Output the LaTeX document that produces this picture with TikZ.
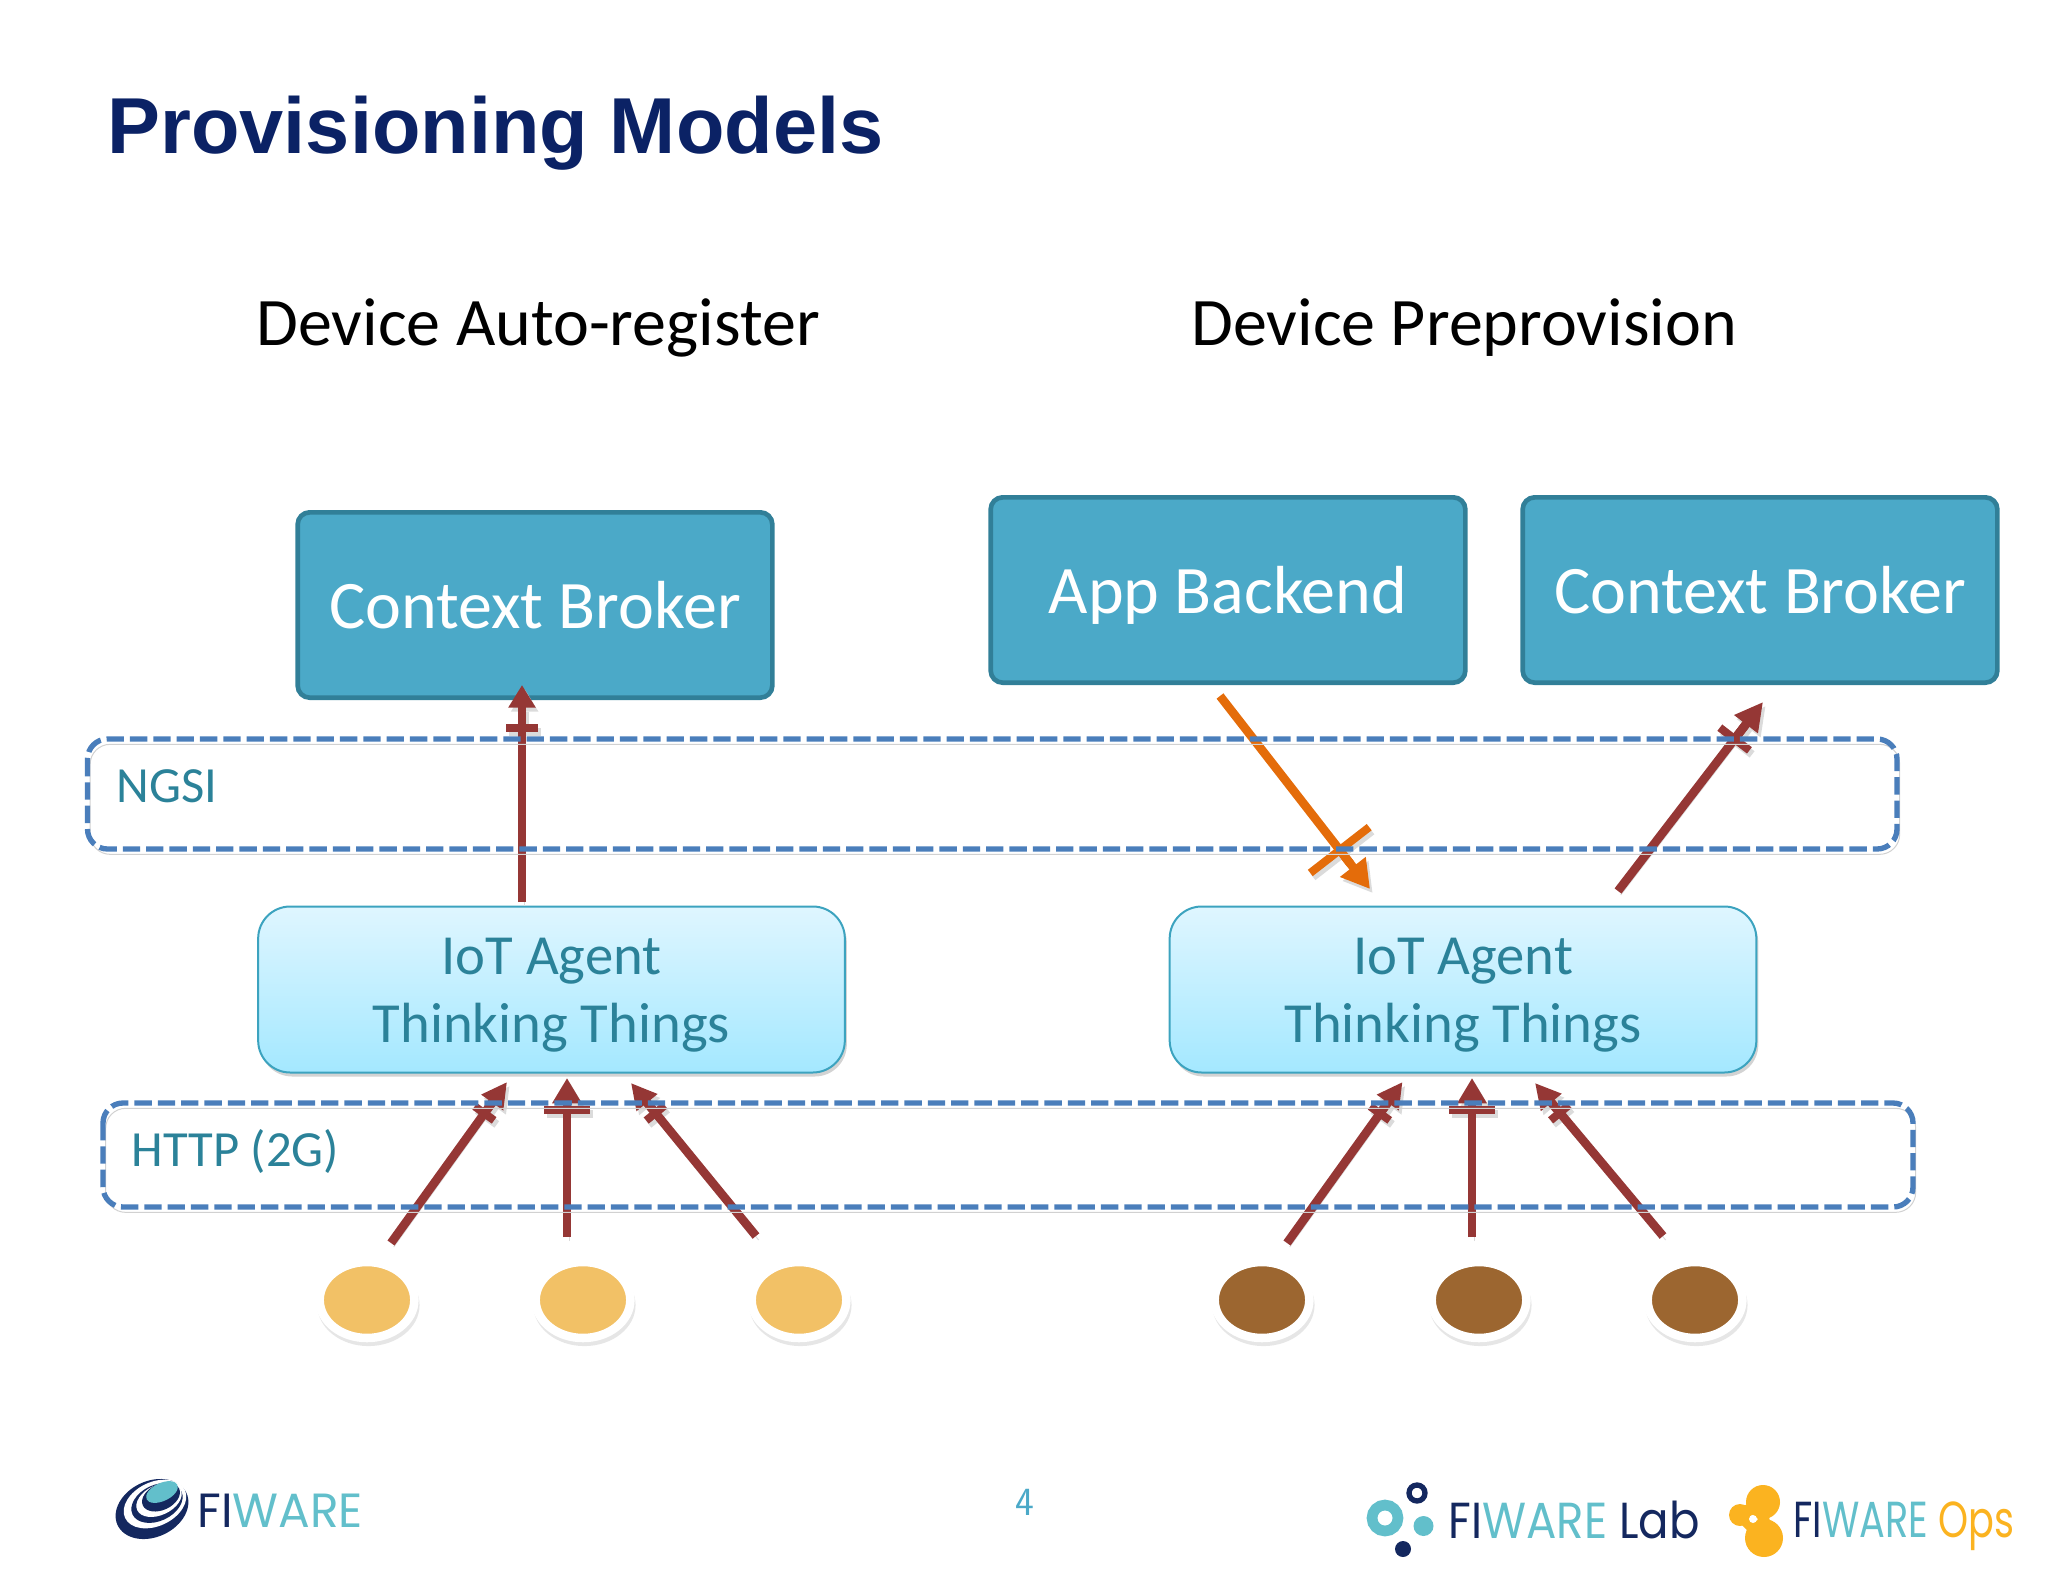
\documentclass[tikz,border=0pt]{standalone}
\usepackage{fontspec}
\setmainfont{Carlito}
\newfontfamily\titlefont{Liberation Sans}
\newfontfamily\logofont{Poppins}
\usetikzlibrary{arrows.meta,shapes.geometric,shadows}

\definecolor{titleblue}{HTML}{0B2265}
\definecolor{brokerfill}{HTML}{4BA9C8}
\definecolor{brokerline}{HTML}{317F98}
\definecolor{agentline}{HTML}{3CA3BF}
\definecolor{agenttext}{HTML}{2B8299}
\definecolor{agenttop}{HTML}{DFF6FF}
\definecolor{agentbottom}{HTML}{A4E8FF}
\definecolor{flowred}{HTML}{953735}
\definecolor{floworange}{HTML}{E46C0A}
\definecolor{layerblue}{HTML}{4A7EBB}
\definecolor{lightdev}{HTML}{F2C166}
\definecolor{darkdev}{HTML}{9C6630}
\definecolor{logodark}{HTML}{14285F}
\definecolor{logoteal}{HTML}{62BFCB}
\definecolor{logoamber}{HTML}{FBB320}

\tikzset{every picture/.style={line width=0.75pt}}
\tikzset{
  broker/.style={draw=brokerline,line width=3.5pt,fill=brokerfill,rounded corners=9pt,text=white,
    minimum width=356pt,minimum height=139pt,text height=46pt,text depth=11pt,font=\fontsize{51}{56}\selectfont},
  agent/.style={draw=agentline,line width=1.5pt,rounded corners=24pt,top color=agenttop,bottom color=agentbottom,
    minimum width=440pt,minimum height=124.5pt,align=center,text=agenttext,text height=91pt,text depth=11pt,
    font=\fontsize{42.5}{51}\selectfont,drop shadow={opacity=0.35,shadow xshift=1.5pt,shadow yshift=-3pt}},
  layer/.style={draw=layerblue,line width=4pt,dash pattern=on 13pt off 4.5pt,rounded corners=15pt,
    preaction={draw=black!18,transform canvas={xshift=2pt,yshift=-4pt}}},
  layertext/.style={anchor=west,text=agenttext,inner sep=0pt,font=\fontsize{38}{42}\selectfont},
  device/.style={ellipse,draw=white,line width=6.4pt,inner sep=0pt,minimum width=71pt,minimum height=57pt,
    drop shadow={opacity=0.2,shadow scale=1.08,shadow xshift=1pt,shadow yshift=-3.5pt}},
  flow/.style={draw=flowred,line width=6.5pt,preaction={draw=black!14,transform canvas={xshift=2pt,yshift=-3pt}}},
  upflow/.style={flow,-{Rectangle[length=6pt,width=24pt]Rectangle[length=12pt,width=6.5pt]Triangle[length=17pt,width=19.5pt]}},
  midflow/.style={flow,-{Rectangle[length=6pt,width=34.5pt]Rectangle[length=2pt,width=6.5pt]Triangle[length=19pt,width=21pt]}},
  sideflow/.style={flow,-{Rectangle[length=6pt,width=18pt]Rectangle[length=7pt,width=6.5pt]Triangle[length=19pt,width=19pt]}},
  outflow/.style={flow,-{Rectangle[length=6pt,width=28pt]Rectangle[length=11pt,width=6.5pt]Triangle[length=21pt,width=21pt]}},
  cmdflow/.style={flow,draw=floworange,-{Rectangle[length=6pt,width=56pt]Rectangle[length=13pt,width=6.5pt]Triangle[length=21pt,width=23pt]}},
  logotext/.style={anchor=base west,inner sep=0pt},
}

\begin{document}
\begin{tikzpicture}[x=0.75pt,y=0.75pt,yscale=-1,xscale=1]
		\useasboundingbox (0,0) rectangle (2048,1573);

		% Text Node
		\node (title) [anchor=west,inner sep=0pt,text=titleblue,font=\titlefont\bfseries\fontsize{59.5}{62}\selectfont] at (107,133) {Provisioning Models};
		% Text Node
		\node (autohead) [font=\fontsize{51}{56}\selectfont] at (538,328) {Device Auto-register};
		% Text Node
		\node (prehead) [font=\fontsize{51}{56}\selectfont] at (1464,328) {Device Preprovision};

		%Shape: Rectangle
		\node (brokerL) [broker] at (535,605) {Context Broker};
		%Shape: Rectangle
		\node (backend) [broker] at (1228,590) {App Backend};
		%Shape: Rectangle
		\node (brokerR) [broker] at (1760,590) {Context Broker};

		%Shape: Rounded Rectangle
		\node (agentL) [agent] at (551.5,989.5) {IoT Agent\\Thinking Things};
		%Shape: Rounded Rectangle
		\node (agentR) [agent] at (1463,989.5) {IoT Agent\\Thinking Things};

		%Shape: Ellipse
		\node (devL1) [device,fill=lightdev] at (367,1300) {};
		\node (devL2) [device,fill=lightdev] at (583,1300) {};
		\node (devL3) [device,fill=lightdev] at (799,1300) {};
		\node (devR1) [device,fill=darkdev] at (1262,1300) {};
		\node (devR2) [device,fill=darkdev] at (1479,1300) {};
		\node (devR3) [device,fill=darkdev] at (1695,1300) {};

		% free ends of the arrows
		\coordinate (upfrom) at (522,902);
		\coordinate (upto) at (522,685);
		\coordinate (cmdfrom) at (1220,696);
		\coordinate (cmdto) at (1370,889);
		\coordinate (outfrom) at (1618,891);
		\coordinate (outto) at (1763,702);
		\coordinate (fromL1) at (391,1243);
		\coordinate (toL1) at (507,1082);
		\coordinate (fromL2) at (567,1237);
		\coordinate (toL2) at (567,1078);
		\coordinate (fromL3) at (756,1236);
		\coordinate (toL3) at (631,1083);
		\coordinate (fromR1) at (1287,1243);
		\coordinate (toR1) at (1402.5,1082);
		\coordinate (fromR2) at (1472,1237);
		\coordinate (toR2) at (1472,1078);
		\coordinate (fromR3) at (1663,1236);
		\coordinate (toR3) at (1535,1083);

		%Straight Lines
		\draw [upflow] (upfrom) -- (upto);
		\draw [cmdflow] (cmdfrom) -- (cmdto);
		\draw [outflow] (outfrom) -- (outto);
		\draw [sideflow] (fromL1) -- (toL1);
		\draw [midflow] (fromL2) -- (toL2);
		\draw [sideflow] (fromL3) -- (toL3);
		\draw [sideflow] (fromR1) -- (toR1);
		\draw [midflow] (fromR2) -- (toR2);
		\draw [sideflow] (fromR3) -- (toR3);

		%Shape: Rounded Rectangle
		\draw [layer] (87.5,739) rectangle (1897,849);
		%Shape: Rounded Rectangle
		\draw [layer] (103,1103) rectangle (1913,1207);

		% Text Node
		\node (ngsi) [layertext] at (116,786) {NGSI};
		% Text Node
		\node (http) [layertext] at (131,1151) {HTTP (2G)};
		% Text Node
		\node (page) [text=brokerfill,font=\sffamily\fontsize{30}{33}\selectfont] at (1025,1502) {4};

		%Logo left
		\draw [fill=logodark,draw=none,rotate around={-25:(152,1509)}] (152,1509) ellipse (38 and 28);
		\draw [fill=white,draw=none,rotate around={-25:(155,1504)}] (155,1504) ellipse (33 and 22);
		\draw [fill=logodark,draw=none,rotate around={-25:(157,1503)}] (157,1503) ellipse (27 and 18);
		\draw [fill=white,draw=none,rotate around={-25:(159,1500)}] (159,1500) ellipse (24 and 15);
		\draw [fill=logodark,draw=none,rotate around={-25:(161,1497)}] (161,1497) ellipse (20 and 13);
		\draw [fill=logoteal,draw=none,rotate around={-25:(162,1492)}] (162,1492) ellipse (17 and 9);
		\node (logomain) [logotext,font=\logofont\fontsize{36}{38}\selectfont] at (197,1527) {\scalebox{.98}[1]{\textcolor{logodark}{FI}\textcolor{logoteal}{WARE}}};

		%Logo middle
		\draw [draw=logoteal,line width=8pt] (1385,1518) circle (13);
		\draw [draw=logodark,line width=4pt] (1417,1493) circle (8);
		\fill [logoteal] (1423.5,1526) circle (10);
		\fill [logodark] (1403,1549) circle (8);
		\node (logolab) [logotext,font=\logofont\fontsize{38}{40}\selectfont] at (1448,1538) {\scalebox{.89}[1]{\textcolor{logodark}{FI}\textcolor{logoteal}{WARE} \textcolor{logodark}{Lab}}};

		%Logo right
		\draw [draw=logoamber,line width=9pt] (1763,1502) -- (1740,1515) -- (1764,1538) -- cycle;
		\fill [logoamber] (1763,1502) circle (17);
		\fill [logoamber] (1740,1515) circle (11);
		\fill [logoamber] (1764,1538) circle (19);
		\fill [white] (1753,1519) circle (4);
		\node (logoops) [logotext,font=\logofont\fontsize{38}{40}\selectfont] at (1793,1537) {\scalebox{.755}[1]{\textcolor{logodark}{FI}\textcolor{logoteal}{WARE} \textcolor{logoamber}{Ops}}};

\end{tikzpicture}
\end{document}
